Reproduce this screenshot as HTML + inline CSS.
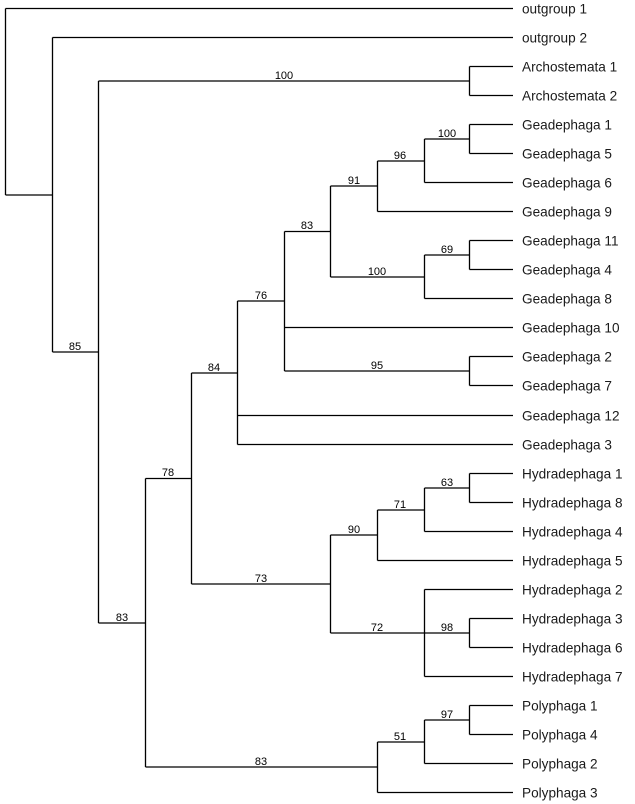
<!DOCTYPE html>
<html><head><meta charset="utf-8"><style>
html,body{margin:0;padding:0;background:#fff;}
svg{display:block;}
.l{stroke:#000;stroke-width:1.3;fill:none;}
.t{font-family:"Liberation Sans",Arial,sans-serif;font-size:13.6px;fill:#1a1a1a;}
.b{font-family:"Liberation Sans",Arial,sans-serif;font-size:11px;fill:#000;text-anchor:middle;}
</style></head><body>
<svg width="635" height="804" viewBox="0 0 635 804" xmlns="http://www.w3.org/2000/svg">
<g class="l">
<path d="M5.5,8.5V195 M5.5,8.5H513 M5.5,195H52.5"/>
<path d="M52.5,37.5V352 M52.5,37.5H513 M52.5,352H98.5"/>
<path d="M98.5,81V623 M98.5,81H469.5 M98.5,623H145.5"/>
<path d="M469.5,66.5V95.5 M469.5,66.5H513 M469.5,95.5H513"/>
<path d="M145.5,478.5V767 M145.5,478.5H191.5 M145.5,767H377.5"/>
<path d="M191.5,373V584 M191.5,373H237.5 M191.5,584H330.5"/>
<path d="M237.5,301V444.5 M237.5,301H284.5 M237.5,415.5H513 M237.5,444.5H513"/>
<path d="M284.5,231.5V371 M284.5,231.5H330.5 M284.5,327.5H513 M284.5,371H469.5"/>
<path d="M469.5,356.5V385.5 M469.5,356.5H513 M469.5,385.5H513"/>
<path d="M330.5,186V277 M330.5,186H377.5 M330.5,277H424.5"/>
<path d="M377.5,161V211.5 M377.5,161H424.5 M377.5,211.5H513"/>
<path d="M424.5,139V182.5 M424.5,139H469.5 M424.5,182.5H513"/>
<path d="M469.5,124.5V153.5 M469.5,124.5H513 M469.5,153.5H513"/>
<path d="M424.5,255V298.5 M424.5,255H469.5 M424.5,298.5H513"/>
<path d="M469.5,240.5V269.5 M469.5,240.5H513 M469.5,269.5H513"/>
<path d="M330.5,535V633 M330.5,535H377.5 M330.5,633H424.5"/>
<path d="M377.5,510V560.5 M377.5,510H424.5 M377.5,560.5H513"/>
<path d="M424.5,488V531.5 M424.5,488H469.5 M424.5,531.5H513"/>
<path d="M469.5,473.5V502.5 M469.5,473.5H513 M469.5,502.5H513"/>
<path d="M424.5,589.5V676.5 M424.5,589.5H513 M424.5,633H469.5 M424.5,676.5H513"/>
<path d="M469.5,618.5V647.5 M469.5,618.5H513 M469.5,647.5H513"/>
<path d="M377.5,742V792.5 M377.5,742H424.5 M377.5,792.5H513"/>
<path d="M424.5,720V763.5 M424.5,720H469.5 M424.5,763.5H513"/>
<path d="M469.5,705.5V734.5 M469.5,705.5H513 M469.5,734.5H513"/>
</g>
<g class="t">
<text x="522" y="13.5">outgroup 1</text>
<text x="522" y="42.5">outgroup 2</text>
<text x="522" y="71.5">Archostemata 1</text>
<text x="522" y="100.5">Archostemata 2</text>
<text x="522" y="129.5">Geadephaga 1</text>
<text x="522" y="158.5">Geadephaga 5</text>
<text x="522" y="187.5">Geadephaga 6</text>
<text x="522" y="216.5">Geadephaga 9</text>
<text x="522" y="245.5">Geadephaga 11</text>
<text x="522" y="274.5">Geadephaga 4</text>
<text x="522" y="303.5">Geadephaga 8</text>
<text x="522" y="332.5">Geadephaga 10</text>
<text x="522" y="361.5">Geadephaga 2</text>
<text x="522" y="390.5">Geadephaga 7</text>
<text x="522" y="420.5">Geadephaga 12</text>
<text x="522" y="449.5">Geadephaga 3</text>
<text x="522" y="478.5">Hydradephaga 1</text>
<text x="522" y="507.5">Hydradephaga 8</text>
<text x="522" y="536.5">Hydradephaga 4</text>
<text x="522" y="565.5">Hydradephaga 5</text>
<text x="522" y="594.5">Hydradephaga 2</text>
<text x="522" y="623.5">Hydradephaga 3</text>
<text x="522" y="652.5">Hydradephaga 6</text>
<text x="522" y="681.5">Hydradephaga 7</text>
<text x="522" y="710.5">Polyphaga 1</text>
<text x="522" y="739.5">Polyphaga 4</text>
<text x="522" y="768.5">Polyphaga 2</text>
<text x="522" y="797.5">Polyphaga 3</text>
</g>
<g class="b">
<text x="284" y="79">100</text>
<text x="75" y="350">85</text>
<text x="122" y="621">83</text>
<text x="168" y="476">78</text>
<text x="214" y="371">84</text>
<text x="261" y="299">76</text>
<text x="307" y="229">83</text>
<text x="354" y="184">91</text>
<text x="400" y="159">96</text>
<text x="447" y="137">100</text>
<text x="377" y="275">100</text>
<text x="447" y="253">69</text>
<text x="377" y="369">95</text>
<text x="261" y="582">73</text>
<text x="354" y="533">90</text>
<text x="400" y="508">71</text>
<text x="447" y="486">63</text>
<text x="377" y="631">72</text>
<text x="447" y="631">98</text>
<text x="261" y="765">83</text>
<text x="400" y="740">51</text>
<text x="447" y="718">97</text>
</g>
</svg>
</body></html>
